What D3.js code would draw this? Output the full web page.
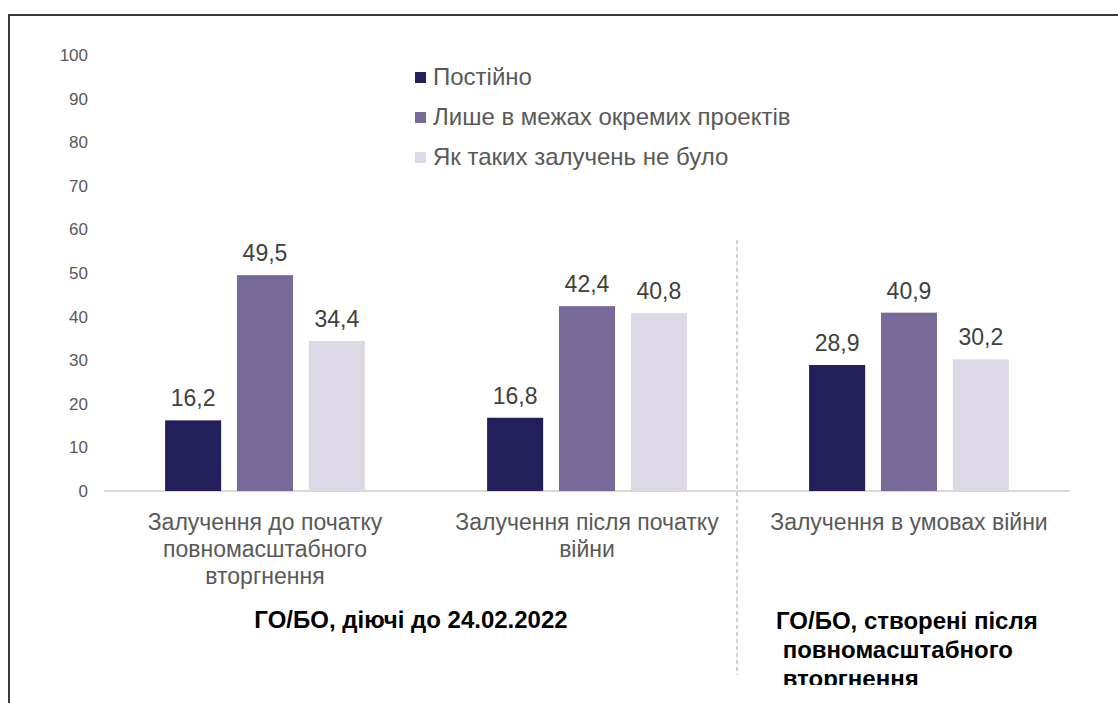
<!DOCTYPE html>
<html>
<head>
<meta charset="utf-8">
<script src="https://cdn.jsdelivr.net/npm/d3@7"></script>
<style>
  body { margin: 0; background: #fff; }
  svg { display: block; font-family: "Liberation Sans", Arial, sans-serif; }
</style>
</head>
<body>
<svg id="chart" width="1118" height="703"></svg>
<script>
// data
const categories = [
    ["Залучення до початку", "повномасштабного", "вторгнення"],
    ["Залучення після початку", "війни"],
    ["Залучення в умовах війни"]
];
const series = ["Постійно", "Лише в межах окремих проектів", "Як таких залучень не було"];
const colors = ["#231f5a", "#776a98", "#ddd8e5"];
const values = [
    [16.2, 49.5, 34.4],
    [16.8, 42.4, 40.8],
    [28.9, 40.9, 30.2]
];
const yTicks = [0, 10, 20, 30, 40, 50, 60, 70, 80, 90, 100];
const groupLabels = [
    ["ГО/БО, діючі до 24.02.2022"],
    ["ГО/БО, створені після", " повномасштабного", " вторгнення"]
];

let svg = d3.select("#chart");

// frame (top + left edge only, the shot is cropped)
svg.append("line").attr("x1", 8).attr("x2", 1118).attr("y1", 15).attr("y2", 15)
    .attr("stroke", "#3a3a3a").attr("stroke-width", 2);
svg.append("line").attr("x1", 9).attr("x2", 9).attr("y1", 14).attr("y2", 703)
    .attr("stroke", "#3a3a3a").attr("stroke-width", 2);

svg.append("clipPath").attr("id", "clip")
    .append("rect").attr("x", 0).attr("y", 0).attr("width", 1118).attr("height", 685);

let g = svg.append("g").attr("clip-path", "url(#clip)");

let catIdx = categories.map((c, i) => i);
let x0 = d3.scaleBand().domain(catIdx).range([104, 1070]);
let x1 = d3.scaleBand().domain(series).range([0, x0.bandwidth()])
    .paddingInner(0.22).paddingOuter(0.85);
let y = d3.scaleLinear().domain([0, 100]).range([491, 55]);

// y axis labels
let yAxis = g.append("g")
    .attr("transform", "translate(96,0)")
    .call(d3.axisLeft(y).tickValues(yTicks).tickSize(0).tickPadding(8));
yAxis.select(".domain").remove();
yAxis.selectAll("text")
    .attr("font-size", 17)
    .attr("font-family", "Liberation Sans, Arial, sans-serif")
    .attr("fill", "#595959");

// baseline
g.append("line")
    .attr("x1", x0.range()[0]).attr("x2", x0.range()[1])
    .attr("y1", y(0)).attr("y2", y(0))
    .attr("stroke", "#d9d9d9").attr("stroke-width", 2);

// bars
let groups = g.selectAll("g.grp")
    .data(values)
    .enter().append("g")
    .attr("class", "grp")
    .attr("transform", (d, i) => `translate(${x0(i)},0)`);

groups.selectAll("rect")
    .data(d => d.map((v, j) => ({v: v, s: series[j], c: colors[j]})))
    .enter().append("rect")
    .attr("x", d => x1(d.s))
    .attr("width", x1.bandwidth())
    .attr("y", d => y(d.v))
    .attr("height", d => y(0) - y(d.v))
    .attr("fill", d => d.c);

groups.selectAll("text.val")
    .data(d => d.map((v, j) => ({v: v, s: series[j]})))
    .enter().append("text")
    .attr("class", "val")
    .attr("x", d => x1(d.s) + x1.bandwidth() / 2)
    .attr("y", d => y(d.v) - 14)
    .attr("text-anchor", "middle")
    .attr("font-size", 23)
    .attr("fill", "#404040")
    .text(d => d3.format(".1f")(d.v).replace(".", ","));

// category labels
categories.forEach((lines, i) => {
    let t = g.append("text")
        .attr("text-anchor", "middle")
        .attr("font-size", 23)
        .attr("fill", "#595959");
    lines.forEach((ln, k) => {
        t.append("tspan")
            .attr("x", x0(i) + x0.bandwidth() / 2)
            .attr("y", 530 + k * 27)
            .text(ln);
    });
});

// divider between the two groups of organisations
g.append("line")
    .attr("x1", 737).attr("x2", 737)
    .attr("y1", 240).attr("y2", 675)
    .attr("stroke", "#a49bc4").attr("stroke-width", 1)
    .attr("stroke-dasharray", "4,3");

// group labels
g.append("text")
    .attr("x", (x0(0) + x0(1) + x0.bandwidth()) / 2 - 15)
    .attr("y", 628)
    .attr("text-anchor", "middle")
    .attr("font-size", 24)
    .attr("font-weight", "bold")
    .attr("fill", "#000")
    .text(groupLabels[0][0]);

let gl2 = g.append("text")
    .attr("font-size", 24)
    .attr("font-weight", "bold")
    .attr("fill", "#000")
    .attr("xml:space", "preserve");
groupLabels[1].forEach((ln, k) => {
    gl2.append("tspan").attr("x", 776).attr("y", 629 + k * 29).text(ln);
});

// legend
let legend = g.append("g").attr("transform", "translate(415,77)");
series.forEach((s, j) => {
    let row = legend.append("g").attr("transform", `translate(0,${j * 40})`);
    row.append("rect").attr("x", 0).attr("y", -5).attr("width", 11).attr("height", 11)
        .attr("fill", colors[j]);
    row.append("text").attr("x", 18).attr("y", 8)
        .attr("font-size", 24)
        .attr("fill", "#595959")
        .text(s);
});
</script>
</body>
</html>
